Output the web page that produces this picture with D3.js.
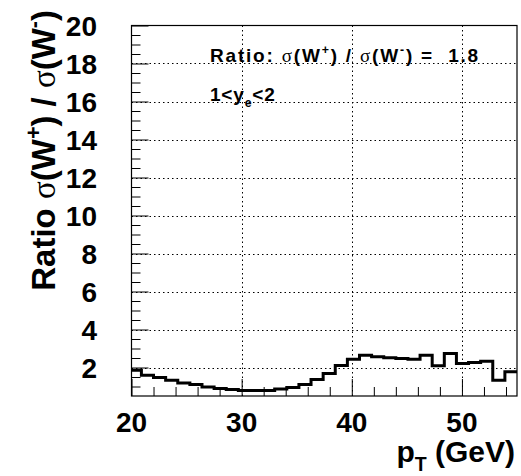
<!DOCTYPE html>
<html>
<head>
<meta charset="utf-8">
<script src="https://cdn.jsdelivr.net/npm/d3@7"></script>
<style>
  html, body { margin: 0; padding: 0; background: #fff; }
  svg { display: block; }
</style>
</head>
<body>
<svg id="chart" width="521" height="476"></svg>
<script>
// Bin edges in GeV (1.1 GeV wide bins)
const binEdges = [19.8, 20.9, 22.0, 23.1, 24.2, 25.3, 26.4, 27.5, 28.6, 29.7, 30.8,
                  31.9, 33.0, 34.1, 35.2, 36.3, 37.4, 38.5, 39.6, 40.7, 41.8,
                  42.9, 44.0, 45.1, 46.2, 47.3, 48.4, 49.5, 50.6, 51.7, 52.8, 53.9, 55.0];
// Ratio sigma(W+)/sigma(W-) in each bin
const ratio = [1.86, 1.59, 1.47, 1.33, 1.19, 1.10, 0.98, 0.89, 0.84, 0.79, 0.79,
               0.79, 0.87, 0.95, 1.10, 1.37, 1.68, 2.10, 2.44, 2.65, 2.56,
               2.51, 2.47, 2.44, 2.65, 2.09, 2.74, 2.21, 2.26, 2.33, 1.33, 1.77];
const xDomain = [20, 55];
const yDomain = [0.5, 20];
const xTickLabels = [20, 30, 40, 50];
const yTickLabels = [2, 4, 6, 8, 10, 12, 14, 16, 18, 20];
const xMinorTicks = [22, 24, 26, 28, 32, 34, 36, 38, 42, 44, 46, 48, 52, 54];
const yMinorTicks = [1, 1.5, 2.5, 3, 3.5, 4.5, 5, 5.5, 6.5, 7, 7.5, 8.5, 9, 9.5,
                     10.5, 11, 11.5, 12.5, 13, 13.5, 14.5, 15, 15.5, 16.5, 17, 17.5,
                     18.5, 19, 19.5];
const meanRatio = "1.8";

const svg = d3.select("#chart");
const W = 521, H = 476;
const m = { left: 131.5, right: 4, top: 25.5, bottom: 80 };
const x = d3.scaleLinear().domain(xDomain).range([m.left, W - m.right]);
const y = d3.scaleLinear().domain(yDomain).range([H - m.bottom, m.top]);
const FONT = "'Liberation Sans', Arial, Helvetica, sans-serif";
const SYM = "'Liberation Serif', 'DejaVu Serif', serif";

svg.append("rect").attr("width", W).attr("height", H).attr("fill", "#fff");

svg.append("defs").append("clipPath").attr("id", "plotclip")
  .append("rect").attr("x", x(20)).attr("y", y(20))
  .attr("width", x(55) - x(20)).attr("height", y(0.5) - y(20));

// dotted grid at major ticks
const grid = svg.append("g").attr("stroke", "#000").attr("stroke-width", 1)
  .attr("stroke-dasharray", "1.5,3");
grid.selectAll("line.gx").data(xTickLabels.filter(v => v > 20)).join("line")
  .attr("x1", d => Math.round(x(d)) + 0.5).attr("x2", d => Math.round(x(d)) + 0.5)
  .attr("y1", y(0.5)).attr("y2", y(20));
grid.selectAll("line.gy").data(yTickLabels.filter(v => v < 20)).join("line")
  .attr("y1", d => Math.round(y(d)) + 0.5).attr("y2", d => Math.round(y(d)) + 0.5)
  .attr("x1", x(20)).attr("x2", x(55));

// axes with inward ticks
const xAxis = d3.axisTop(x).tickValues(xTickLabels).tickSize(17).tickFormat("");
const xAxisMinor = d3.axisTop(x).tickValues(xMinorTicks).tickSize(9).tickFormat("");
const yAxis = d3.axisRight(y).tickValues(yTickLabels).tickSize(17).tickFormat("");
const yAxisMinor = d3.axisRight(y).tickValues(yMinorTicks).tickSize(9).tickFormat("");
[xAxis, xAxisMinor].forEach(a => {
  const g = svg.append("g").attr("transform", `translate(0,${y(0.5)})`).call(a);
  g.select(".domain").remove();
  g.selectAll("line").attr("stroke", "#000").attr("stroke-width", 1);
});
[yAxis, yAxisMinor].forEach(a => {
  const g = svg.append("g").attr("transform", `translate(${x(20)},0)`).call(a);
  g.select(".domain").remove();
  g.selectAll("line").attr("stroke", "#000").attr("stroke-width", 1);
});

// histogram step line
const pts = ratio.map((v, i) => [binEdges[i], v]);
pts.push([binEdges[binEdges.length - 1], ratio[ratio.length - 1]]);
const line = d3.line().x(d => x(d[0])).y(d => y(d[1])).curve(d3.curveStepAfter);
svg.append("path").attr("clip-path", "url(#plotclip)")
  .attr("d", line(pts)).attr("fill", "none").attr("stroke", "#000")
  .attr("stroke-width", 3);

// frame
svg.append("rect").attr("x", x(20)).attr("y", y(20))
  .attr("width", x(55) - x(20)).attr("height", y(0.5) - y(20))
  .attr("fill", "none").attr("stroke", "#000").attr("stroke-width", 1.2);

// tick labels
svg.append("g").selectAll("text").data(xTickLabels).join("text")
  .attr("x", d => x(d)).attr("y", 432).attr("text-anchor", "middle")
  .attr("font-family", FONT).attr("font-weight", "bold").attr("font-size", 28)
  .text(d => d);
svg.append("g").selectAll("text").data(yTickLabels).join("text")
  .attr("x", 97).attr("y", d => y(d)).attr("dy", "0.36em").attr("text-anchor", "end")
  .attr("font-family", FONT).attr("font-weight", "bold").attr("font-size", 28)
  .text(d => d);

// rich text helper: parts of {t, sup, sub, sym}
function rich(textSel, parts, fs) {
  let shift = 0;
  parts.forEach(p => {
    const ts = textSel.append("tspan").text(p.t);
    let target = 0;
    if (p.sup) target = -fs * 0.42;
    if (p.sub) target = fs * 0.3;
    if (target !== shift) { ts.attr("dy", target - shift); shift = target; }
    if (p.sup || p.sub) ts.attr("font-size", fs * 0.65);
    if (p.sym) ts.attr("font-family", SYM).attr("font-weight", "normal");
  });
}
function ratioParts(prefix) {
  return [{ t: prefix }, { t: "σ", sym: true }, { t: "(W" }, { t: "+", sup: true },
          { t: ") / " }, { t: "σ", sym: true }, { t: "(W" }, { t: "-", sup: true },
          { t: ")" }];
}

// axis titles
const xt = svg.append("text").attr("x", 515).attr("y", 462).attr("text-anchor", "end")
  .attr("font-family", FONT).attr("font-weight", "bold").attr("font-size", 30);
rich(xt, [{ t: "p" }, { t: "T", sub: true }, { t: " (GeV)" }], 30);

const yt = svg.append("text").attr("transform", "translate(55,10) rotate(-90)")
  .attr("text-anchor", "end")
  .attr("font-family", FONT).attr("font-weight", "bold").attr("font-size", 33);
rich(yt, ratioParts("Ratio "), 33);

// annotations
const a1 = svg.append("text").attr("x", 210).attr("y", 62)
  .attr("font-family", FONT).attr("font-weight", "bold").attr("font-size", 19)
  .attr("letter-spacing", 1.8).style("white-space", "pre");
rich(a1, ratioParts("Ratio: ").concat([{ t: " =  " + meanRatio }]), 19);

const a2 = svg.append("text").attr("x", 210).attr("y", 101)
  .attr("font-family", FONT).attr("font-weight", "bold").attr("font-size", 19)
  .attr("letter-spacing", 0.8);
rich(a2, [{ t: "1<y" }, { t: "e", sub: true }, { t: "<2" }], 19);
</script>
</body>
</html>
